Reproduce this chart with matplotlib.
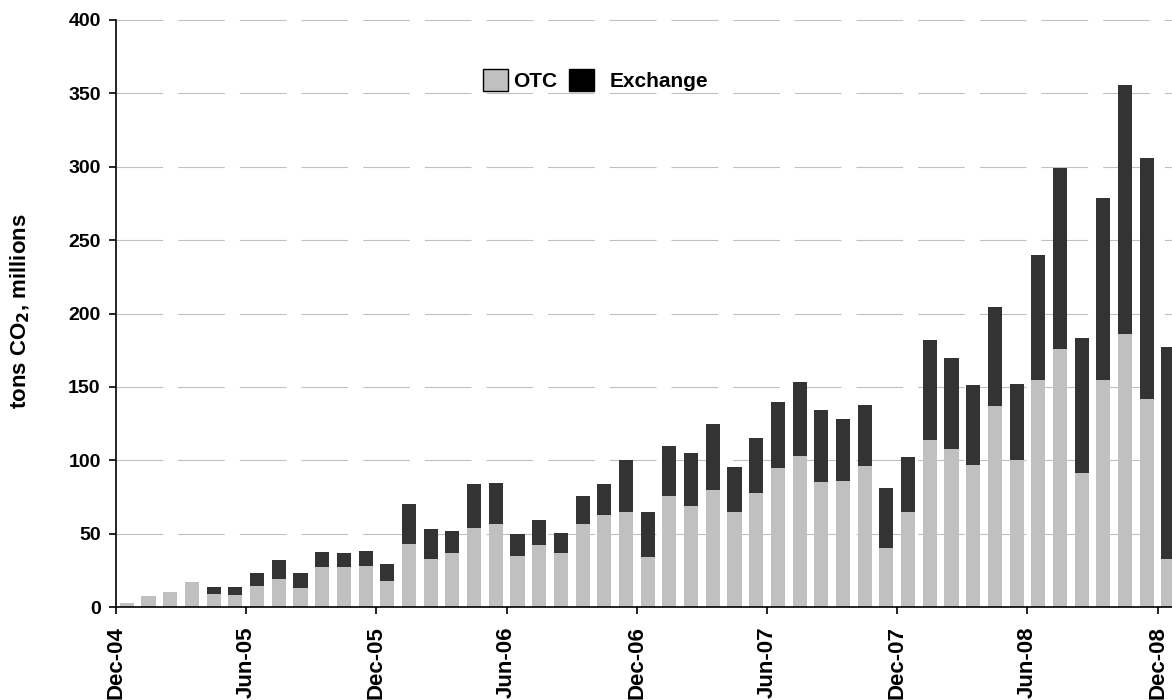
import matplotlib
matplotlib.use('Agg')
import matplotlib.pyplot as plt
from matplotlib.patches import Patch, Rectangle
import numpy as np

plt.rcParams['font.family'] = ['Liberation Sans', 'DejaVu Sans']
plt.rcParams['font.weight'] = 'bold'

# monthly volumes, Dec-04 .. Dec-08
months = ['Dec-04', 'Jan-05', 'Feb-05', 'Mar-05', 'Apr-05', 'May-05', 'Jun-05',
          'Jul-05', 'Aug-05', 'Sep-05', 'Oct-05', 'Nov-05', 'Dec-05', 'Jan-06',
          'Feb-06', 'Mar-06', 'Apr-06', 'May-06', 'Jun-06', 'Jul-06', 'Aug-06',
          'Sep-06', 'Oct-06', 'Nov-06', 'Dec-06', 'Jan-07', 'Feb-07', 'Mar-07',
          'Apr-07', 'May-07', 'Jun-07', 'Jul-07', 'Aug-07', 'Sep-07', 'Oct-07',
          'Nov-07', 'Dec-07', 'Jan-08', 'Feb-08', 'Mar-08', 'Apr-08', 'May-08',
          'Jun-08', 'Jul-08', 'Aug-08', 'Sep-08', 'Oct-08', 'Nov-08', 'Dec-08']
otc = [3, 7.5, 10, 17, 9, 8, 14, 19, 13, 27, 27, 28, 17.5, 43, 33, 36.5, 54,
       56.5, 35, 42, 36.5, 56.5, 62.5, 65, 34, 75.5, 68.5, 80, 65, 78, 95, 103,
       85, 86, 96, 40, 65, 114, 108, 97, 137, 100, 155, 176, 91, 155, 186,
       141.5, 33]
exchange = [0, 0, 0, 0, 4.5, 5.5, 9, 13, 10, 10.5, 9.5, 10.5, 12, 27, 20, 15,
            30, 28, 14.5, 17, 14, 19, 21, 35, 31, 34.5, 36.5, 44.5, 30.5, 37,
            45, 50, 49, 42, 41.5, 41, 37, 68, 62, 54, 67.5, 52, 85, 123, 92,
            124, 170, 164.5, 144]
tick_labels = months[::6]


class BoxHandler:
    # square legend key, pushed to one side of the handle box
    def __init__(self, side):
        self.side = side

    def legend_artist(self, legend, orig_handle, fontsize, handlebox):
        w, h = handlebox.width, handlebox.height
        rw = w * 25 / 36
        x0 = -handlebox.xdescent
        if self.side == 'right':
            x0 += w - rw
        rect = Rectangle((x0, -handlebox.ydescent), rw, h,
                         facecolor=orig_handle.get_facecolor(),
                         edgecolor=orig_handle.get_edgecolor(),
                         linewidth=orig_handle.get_linewidth(),
                         transform=handlebox.get_transform())
        handlebox.add_artist(rect)
        return rect


fig = plt.figure(figsize=(11.72, 7.0), dpi=100)
ax = fig.add_axes([116 / 1172, 1 - 607 / 700, 1 - 116 / 1172, 587 / 700])

x = np.arange(len(months)) + 0.5
ax.bar(x, otc, width=0.65, color='#c0c0c0', zorder=2)
ax.bar(x, exchange, width=0.65, bottom=otc, color='#333333', zorder=2)

ax.set_xlim(0, 48.66)
ax.set_ylim(0, 400)
ax.set_yticks(np.arange(0, 401, 50))
ax.set_xticks(np.arange(0, 49, 6))
ax.set_xticklabels(tick_labels, rotation=90, fontsize=16, fontweight='bold')
for lab in ax.get_yticklabels():
    lab.set_fontsize(14)
    lab.set_fontweight('bold')

ax.yaxis.grid(True, color='#c0c0c0', linewidth=0.8, linestyle=(0, (42, 13.5)))
ax.set_axisbelow(True)

ax.spines['top'].set_visible(False)
ax.spines['right'].set_visible(False)
ax.spines['left'].set_linewidth(1.2)
ax.spines['bottom'].set_linewidth(1.2)
ax.tick_params(direction='out', length=5, width=1.2)
ax.tick_params(axis='y', pad=6)
ax.tick_params(axis='x', pad=9)

ax.set_ylabel('tons CO$_\\mathbf{2}$, millions', fontsize=16, fontweight='bold')
ax.yaxis.set_label_coords(-0.080, 0.504)

otc_key = Patch(facecolor='#c0c0c0', edgecolor='black', linewidth=1)
exch_key = Patch(facecolor='black', edgecolor='black', linewidth=1)
ax.legend([otc_key, exch_key], ['OTC', 'Exchange'], ncol=2, frameon=False,
          loc='center', bbox_to_anchor=(0.449, 0.898), fontsize=15,
          handlelength=1.73, handleheight=1.28, handletextpad=0.24,
          columnspacing=0.58,
          handler_map={otc_key: BoxHandler('right'), exch_key: BoxHandler('left')})

fig.savefig('out.png', dpi=100)
